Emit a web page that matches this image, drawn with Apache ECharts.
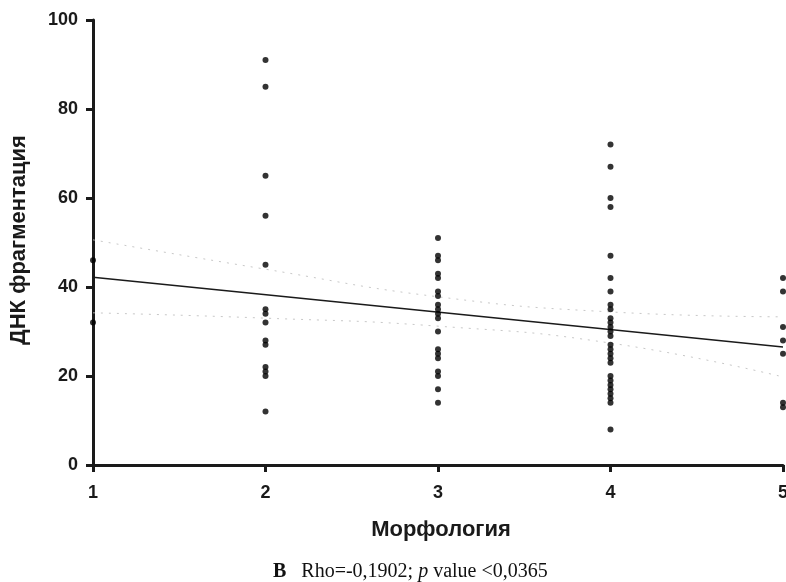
<!DOCTYPE html>
<html>
<head>
<meta charset="utf-8">
<script src="https://cdn.jsdelivr.net/npm/echarts@6/dist/echarts.min.js"></script>
<style>html,body{margin:0;padding:0;background:#fff;}#c{width:786px;height:582px;}</style>
</head>
<body>
<div id="c"></div>
<script>
// Data
const morphCategories = [1, 2, 3, 4, 5];
const morph1 = [46, 32];
const morph2 = [91, 85, 65, 56, 45, 35, 34, 32, 28, 27, 22, 21, 20, 12];
const morph3 = [51, 47, 46, 43, 42, 39, 38, 36, 35, 34, 33, 30, 26, 25, 24, 21, 20, 17, 14];
const morph4 = [72, 67, 60, 58, 47, 42, 39, 36, 35, 33, 32, 31, 30, 29, 27, 26, 25, 24, 23, 20, 19, 18, 17, 16, 15, 14, 8];
const morph5 = [42, 39, 31, 28, 25, 14, 13];
const fitX = [1, 5];
const fitY = [42.2, 26.5];
const ciX = [1, 2, 3, 4, 5];
const ciUpper = [50.6, 44.0, 37.8, 34.4, 33.3];
const ciLower = [34.2, 33.0, 31.2, 27.4, 19.8];
const yTicks = [0, 20, 40, 60, 80, 100];
const xTitle = 'Морфология';
const yTitle = 'ДНК фрагментация';

const columns = [morph1, morph2, morph3, morph4, morph5];
const scatterData = [];
columns.forEach((col, i) => col.forEach(v => scatterData.push([morphCategories[i], v])));

const chart = echarts.init(document.getElementById('c'), null, {renderer: 'canvas'});
const axisCommon = {
  axisLine: {show: true, lineStyle: {color: '#1a1a1a', width: 3}},
  axisTick: {show: true, length: 7, lineStyle: {color: '#1a1a1a', width: 3}},
  axisLabel: {color: '#1a1a1a', fontFamily: 'Liberation Sans', fontWeight: 'bold', fontSize: 18},
  splitLine: {show: false}
};
chart.setOption({
  animation: false,
  backgroundColor: '#fff',
  grid: {left: 93, right: 3, top: 20, bottom: 117, outerBoundsMode: 'none', containLabel: false},
  xAxis: Object.assign({type: 'value', min: 1, max: 5, interval: 1}, axisCommon, {
    axisLabel: Object.assign({}, axisCommon.axisLabel, {margin: 19})
  }),
  yAxis: Object.assign({type: 'value', min: yTicks[0], max: yTicks[yTicks.length - 1], interval: 20}, axisCommon, {
    axisLabel: Object.assign({}, axisCommon.axisLabel, {margin: 15})
  }),
  title: {
    left: 268, top: 557,
    text: '{b|B}   {r|Rho=-0,1902; }{i|p}{r| value <0,0365}',
    textStyle: {
      fontWeight: 'normal',
      rich: {
        b: {fontFamily: 'Liberation Serif', fontWeight: 'bold', fontSize: 20, color: '#111'},
        r: {fontFamily: 'Liberation Serif', fontWeight: 'normal', fontSize: 20, color: '#111'},
        i: {fontFamily: 'Liberation Serif', fontWeight: 'normal', fontStyle: 'italic', fontSize: 20, color: '#111'}
      }
    }
  },
  graphic: [
    {type: 'text', x: 441, y: 530, style: {text: xTitle, fontFamily: 'Liberation Sans', fontWeight: 'bold', fontSize: 22, fill: '#1a1a1a', textAlign: 'center', textVerticalAlign: 'middle'}},
    {type: 'text', rotation: Math.PI / 2, x: 19, y: 240, style: {text: yTitle, fontFamily: 'Liberation Sans', fontWeight: 'bold', fontSize: 22, fill: '#1a1a1a', textAlign: 'center', textVerticalAlign: 'middle'}}
  ],
  series: [
    {type: 'line', data: ciX.map((x, i) => [x, ciUpper[i]]), smooth: true, symbol: 'none', lineStyle: {color: '#c8c8c8', width: 1, type: [2, 6]}, z: 1},
    {type: 'line', data: ciX.map((x, i) => [x, ciLower[i]]), smooth: true, symbol: 'none', lineStyle: {color: '#c8c8c8', width: 1, type: [2, 6]}, z: 1},
    {type: 'line', data: fitX.map((x, i) => [x, fitY[i]]), symbol: 'none', lineStyle: {color: '#1a1a1a', width: 1.5}, z: 2},
    {type: 'scatter', data: scatterData, symbol: 'circle', symbolSize: 6, itemStyle: {color: '#000'}, clip: false, z: 3}
  ]
});
</script>
</body>
</html>
